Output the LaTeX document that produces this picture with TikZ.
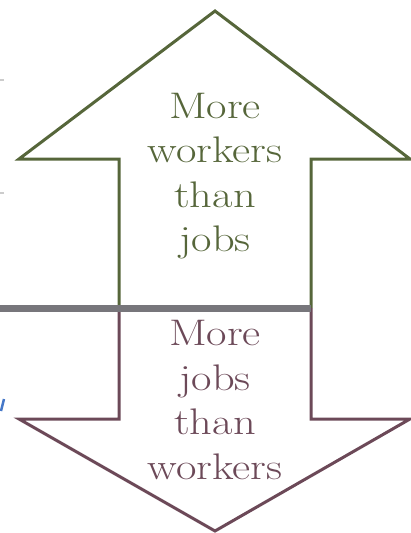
\documentclass[tikz,border=0pt]{standalone}
\usepackage{fontspec}
\setmainfont{Latin Modern Roman}[FakeStretch=1.2]
\usepackage{tikz}
\definecolor{olivearrow}{RGB}{86,102,58}
\definecolor{plumarrow}{RGB}{108,73,88}
\definecolor{midgray}{RGB}{119,118,123}
\definecolor{edgeblue}{RGB}{70,120,200}
\begin{document}
\begin{tikzpicture}[x=1pt,y=-1pt,
  arrowline/.style={line width=3pt,line join=miter},
  arrowtext/.style={align=center,inner sep=0pt,font=\fontsize{37}{44.5}\selectfont}]
\useasboundingbox (0,0) rectangle (411,533);
% cut-off marks at the left edge
\draw[gray!40,line width=1.5pt] (0,80)--(4,80);
\draw[gray!40,line width=1.5pt] (0,193)--(4,193);
\draw[edgeblue,line width=2.5pt] (1,411)--(4,399);
% up arrow
\draw[arrowline,olivearrow] (119,308)--(119,159)--(19,159)--(215,11)--(410,159)--(311,159)--(311,308);
% down arrow
\draw[arrowline,plumarrow] (119,308)--(119,419)--(19,419)--(215,531)--(410,419)--(311,419)--(311,308);
% dividing line
\draw[midgray,line width=7pt] (0,308)--(311,308);

\node[arrowtext,text=olivearrow] (upText) at (215,176) {More\\workers\\than\\jobs};
\node[arrowtext,text=plumarrow] (downText) at (215,400) {More\\jobs\\than\\workers};
\end{tikzpicture}
\end{document}
